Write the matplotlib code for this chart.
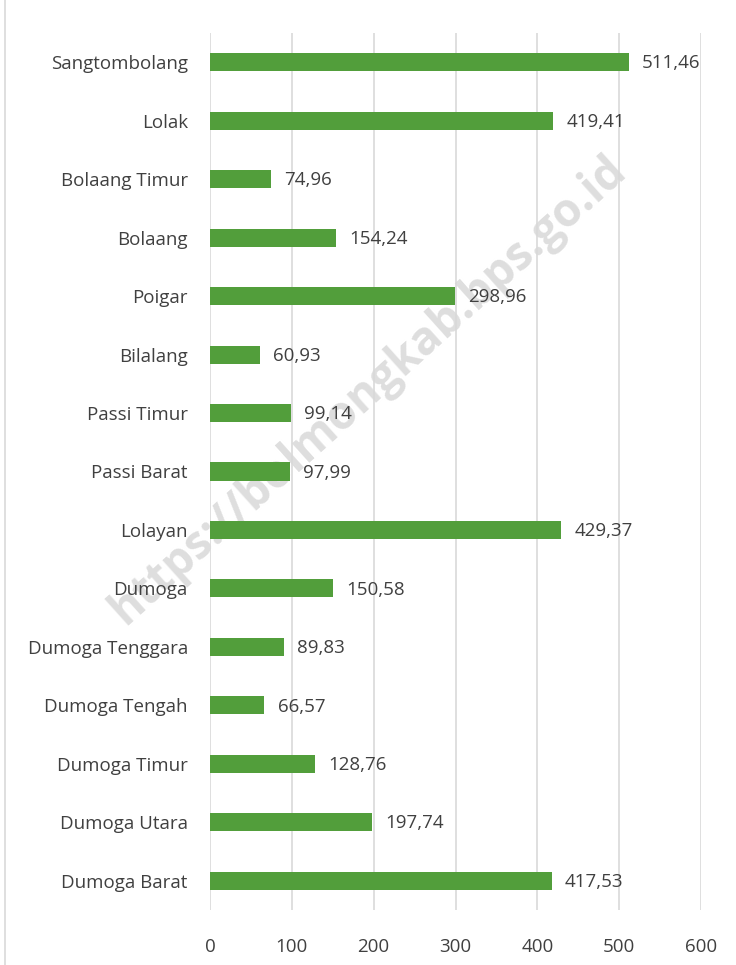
import matplotlib.pyplot as plt
from matplotlib.lines import Line2D

# data (top to bottom in the chart)
kecamatan = [
    "Sangtombolang", "Lolak", "Bolaang Timur", "Bolaang", "Poigar",
    "Bilalang", "Passi Timur", "Passi Barat", "Lolayan", "Dumoga",
    "Dumoga Tenggara", "Dumoga Tengah", "Dumoga Timur", "Dumoga Utara",
    "Dumoga Barat",
]
luas = [511.46, 419.41, 74.96, 154.24, 298.96, 60.93, 99.14, 97.99,
        429.37, 150.58, 89.83, 66.57, 128.76, 197.74, 417.53]
x_ticks = [0, 100, 200, 300, 400, 500, 600]

plt.rcParams['font.family'] = ['Open Sans', 'DejaVu Sans']
TXT = '#404040'

fig = plt.figure(figsize=(7.36, 9.65), dpi=100)
ax = fig.add_axes([210 / 736, 1 - 910 / 965, 491 / 736, 877 / 965])
ax.patch.set_alpha(0)

pos = list(range(len(kecamatan)))[::-1]
ax.barh(pos, luas, height=0.31, color='#529E3B', zorder=3)

for p, v in zip(pos, luas):
    ax.text(v + 16, p - 0.02, f"{v:.2f}".replace('.', ','), va='center',
            ha='left', fontsize=13.5, color=TXT, zorder=4)

ax.set_ylim(-0.5, len(kecamatan) - 0.5)
ax.set_xlim(0, 600)
ax.set_yticks(pos)
ax.set_yticklabels(kecamatan, fontsize=13.5, color=TXT)
ax.set_xticks(x_ticks)
ax.set_xticklabels([str(t) for t in x_ticks], fontsize=13.5, color=TXT)
ax.tick_params(length=0)
ax.tick_params(axis='y', pad=16)
ax.tick_params(axis='x', pad=20)
ax.grid(axis='x', color='#d9d9d9', linewidth=1.2, zorder=1)
ax.set_axisbelow(True)
for s in ax.spines.values():
    s.set_visible(False)

# watermark, behind everything
fig.text(0.50, 0.596, "https://bolmongkab.bps.go.id", rotation=42,
         fontsize=33, fontweight='bold', color='#dedede',
         ha='center', va='center', zorder=-1)

# frame line on left
fig.add_artist(Line2D([5 / 736, 5 / 736], [0, 1], color='#d9d9d9',
                      linewidth=1.2, transform=fig.transFigure))

fig.savefig("out.png", dpi=100)
